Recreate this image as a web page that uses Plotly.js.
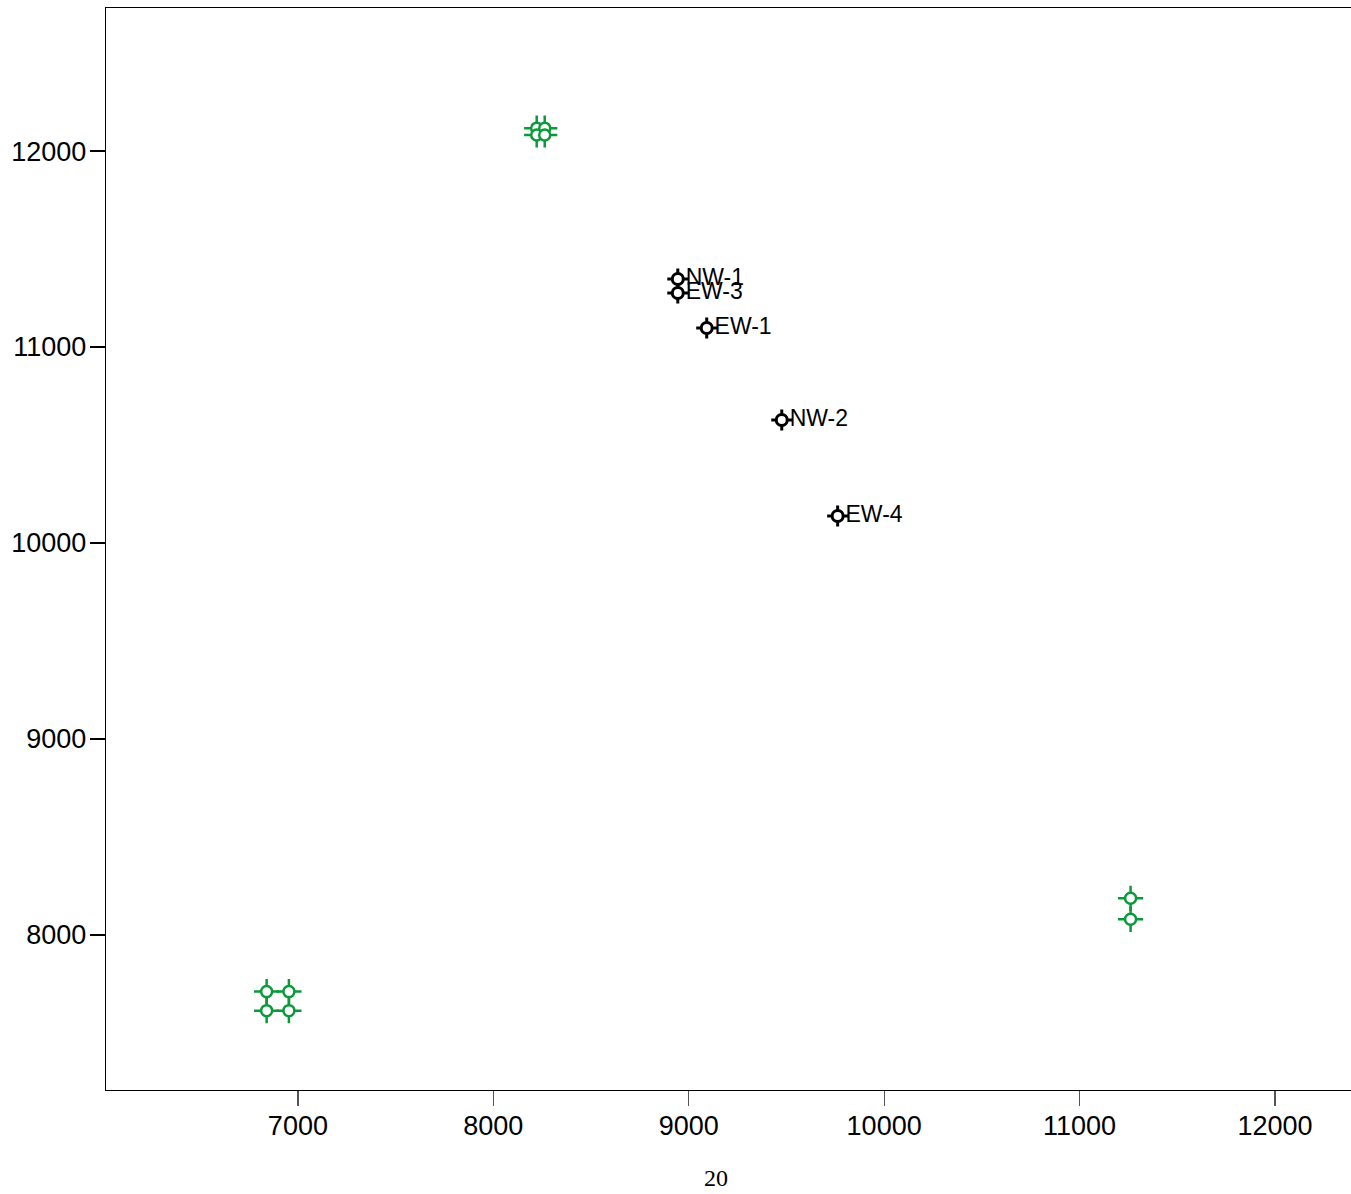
<!DOCTYPE html>
<html>
<head>
<meta charset="utf-8">
<script src="https://cdn.plot.ly/plotly-3.0.1.min.js"></script>
<style>html,body{margin:0;padding:0;background:#fff;}#chart{width:1351px;height:1194px;}</style>
</head>
<body>
<div id="chart"></div>
<script>
// Green reference points
const greenX = [8222, 8263, 8222, 8263, 6840, 6954, 6840, 6954, 11261, 11261];
const greenY = [12117, 12117, 12082, 12082, 7711, 7711, 7614, 7614, 8187, 8080];
// Labelled black points
const blackNames = ["NW-1", "EW-3", "EW-1", "NW-2", "EW-4"];
const blackX = [8944, 8944, 9092, 9476, 9762];
const blackY = [11347, 11276, 11097, 10628, 10138];
// Axis ticks
const xTicks = [7000, 8000, 9000, 10000, 11000, 12000];
const yTicks = [8000, 9000, 10000, 11000, 12000];

const green = "#0a9a3a";
const traces = [
  {x: greenX, y: greenY, mode: "markers", type: "scatter", hoverinfo: "skip",
   marker: {symbol: "cross-thin-open", size: 18, color: green, line: {color: green, width: 2.5}}},
  {x: greenX, y: greenY, mode: "markers", type: "scatter", hoverinfo: "skip",
   marker: {symbol: "circle", size: 11, color: "#ffffff", line: {color: green, width: 2.5}}},
  {x: blackX, y: blackY, mode: "markers", type: "scatter", hoverinfo: "skip",
   marker: {symbol: "cross-thin-open", size: 15, color: "#000", line: {color: "#000", width: 3}}},
  {x: blackX, y: blackY, mode: "markers+text", type: "scatter", hoverinfo: "skip",
   text: blackNames, textposition: "middle right",
   textfont: {family: "Liberation Sans, Arial, sans-serif", size: 23, color: "#000"},
   marker: {symbol: "circle", size: 11, color: "#ffffff", line: {color: "#000", width: 3}}}
];

const layout = {
  width: 1351, height: 1194,
  margin: {l: 106, r: 0, t: 8, b: 104},
  paper_bgcolor: "#fff", plot_bgcolor: "#fff",
  showlegend: false,
  font: {family: "Liberation Sans, Arial, sans-serif", size: 27, color: "#000"},
  xaxis: {range: [6018, 12389], tickvals: xTicks, ticktext: xTicks.map(String),
          showgrid: false, zeroline: false, showline: true, mirror: true,
          linecolor: "#000", linewidth: 1.3, ticks: "outside", ticklen: 15,
          tickcolor: "#555", tickwidth: 1.3, tickfont: {size: 27}, ticklabelstandoff: -4},
  yaxis: {range: [7209, 12730], tickvals: yTicks, ticktext: yTicks.map(String),
          showgrid: false, zeroline: false, showline: true, mirror: false,
          linecolor: "#000", linewidth: 1.3, ticks: "outside", ticklen: 15,
          tickcolor: "#000", tickwidth: 1.3, tickfont: {size: 27}, ticklabelstandoff: -2},
  annotations: [{text: "20", xref: "paper", yref: "paper", x: (716 - 106) / 1245, y: -(1178 - 1090) / 1082,
                 xanchor: "center", yanchor: "middle", showarrow: false,
                 font: {family: "Liberation Serif, Times New Roman, serif", size: 24, color: "#000"}}]
};
Plotly.newPlot("chart", traces, layout, {displayModeBar: false, staticPlot: true});
</script>
</body>
</html>
